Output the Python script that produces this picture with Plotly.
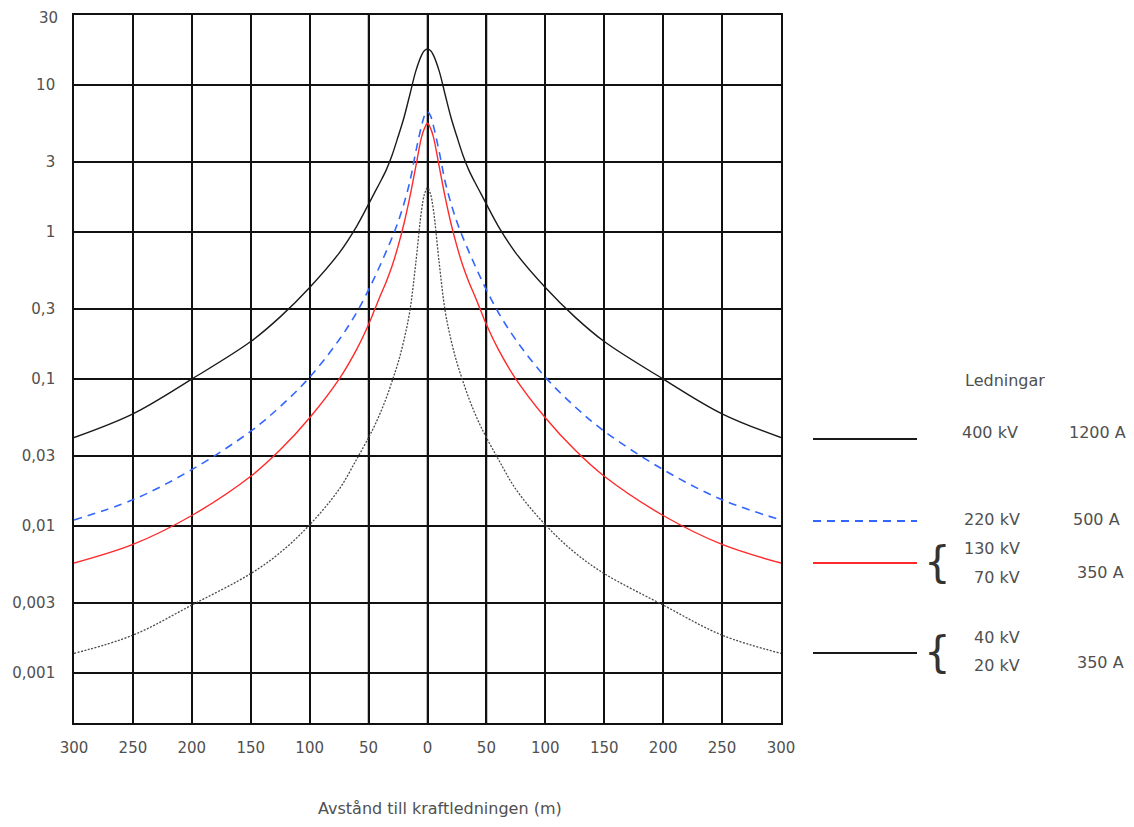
import math
import plotly.graph_objects as go

# Distance from the line (m), read at these points
distance = [-300, -250, -200, -150, -125, -100, -75, -60, -50, -45, -40, -35, -30, -25, -20, -15, -10, -5, -2.5,
            0, 2.5, 5, 10, 15, 20, 25, 30, 35, 40, 45, 50, 60, 75, 100, 125, 150, 200, 250, 300]

# Magnetic field values (µT)
kv400 = [0.04, 0.058, 0.1, 0.18, 0.265, 0.42, 0.72, 1.1, 1.55, 1.85, 2.2, 2.65, 3.35, 4.45, 6.0, 8.6, 12.4, 16.0, 17.2,
         17.6, 17.2, 16.0, 12.4, 8.6, 6.0, 4.45, 3.35, 2.65, 2.2, 1.85, 1.55, 1.1, 0.72, 0.42, 0.265, 0.18, 0.1, 0.058, 0.04]
kv220 = [0.011, 0.0151, 0.0242, 0.0442, 0.065, 0.103, 0.185, 0.285, 0.405, 0.49, 0.6, 0.74, 0.92, 1.17, 1.56, 2.2, 3.5, 5.3, 6.2,
         6.6, 6.2, 5.3, 3.5, 2.2, 1.56, 1.17, 0.92, 0.74, 0.6, 0.49, 0.405, 0.285, 0.185, 0.103, 0.065, 0.0442, 0.0242, 0.0151, 0.011]
kv130 = [0.0056, 0.0075, 0.0118, 0.0218, 0.033, 0.0546, 0.1, 0.16, 0.235, 0.295, 0.37, 0.46, 0.59, 0.8, 1.14, 1.73, 2.78, 4.45, 5.1,
         5.5, 5.1, 4.45, 2.78, 1.73, 1.14, 0.8, 0.59, 0.46, 0.37, 0.295, 0.235, 0.16, 0.1, 0.0546, 0.033, 0.0218, 0.0118, 0.0075, 0.0056]
kv40 = [0.00136, 0.00181, 0.0029, 0.00475, 0.0066, 0.0102, 0.0178, 0.0286, 0.04, 0.048, 0.059, 0.0743, 0.097, 0.129, 0.184, 0.29, 0.61, 1.42, 1.82,
        2.0, 1.82, 1.42, 0.61, 0.29, 0.184, 0.129, 0.097, 0.0743, 0.059, 0.048, 0.04, 0.0286, 0.0178, 0.0102, 0.0066, 0.00475, 0.0029, 0.00181, 0.00136]

x_ticks = [-300, -250, -200, -150, -100, -50, 0, 50, 100, 150, 200, 250, 300]
x_ticktext = ["300", "250", "200", "150", "100", "50", "0", "50", "100", "150", "200", "250", "300"]
grey_verticals = [-50, 0, 50]
y_ticks = [30, 10, 3, 1, 0.3, 0.1, 0.03, 0.01, 0.003, 0.001]
y_ticktext = ["30", "10", "3", "1", "0,3", "0,1", "0,03", "0,01", "0,003", "0,001"]

legend_rows = [
    # (y px, colour, dash)
    (439, "#1a1a1a", "solid"),
    (521, "#3366ff", "8px,6px"),
    (563, "#ff2a2a", "solid"),
    (653, "#1a1a1a", "solid"),
]
legend_texts = [
    ("Ledningar", 963, 380, "left"),
    ("400 kV", 960, 432, "left"),
    ("1200 A", 1128, 432, "right"),
    ("220 kV", 962, 519, "left"),
    ("500 A", 1122, 519, "right"),
    ("130 kV", 962, 548, "left"),
    ("70 kV", 972, 577, "left"),
    ("350 A", 1126, 572, "right"),
    ("40 kV", 972, 637, "left"),
    ("20 kV", 972, 665, "left"),
    ("350 A", 1126, 662, "right"),
]
braces = [(937, 562), (937, 652)]

OFF = 8  # page body margin
W, H = 1134 - OFF, 827 - OFF
L, R, T, B = 74 - OFF, 781 - OFF, 15 - OFF, 723 - OFF
FONT = "DejaVu Sans"
TXT = "#505050"
Y_RANGE = [-3.34, math.log10(y_ticks[0])]


def px_x(p):
    return (p - OFF - L) / (R - L)


def px_y(p):
    return (B - (p - OFF)) / (B - T)


SPL = dict(shape="spline", smoothing=1.0)
fig = go.Figure()
fig.add_trace(go.Scatter(x=distance, y=kv400, mode="lines", line=dict(color="#1a1a1a", width=1.4, **SPL), showlegend=False))
fig.add_trace(go.Scatter(x=distance, y=kv220, mode="lines", line=dict(color="#3366ff", width=1.6, dash="8px,6px", **SPL), showlegend=False))
fig.add_trace(go.Scatter(x=distance, y=kv130, mode="lines", line=dict(color="#ff2a2a", width=1.4, **SPL), showlegend=False))
fig.add_trace(go.Scatter(x=distance, y=kv40, mode="lines", line=dict(color="#4a4a4a", width=1.3, dash="2px,1.5px", **SPL), showlegend=False))

shapes = []
for xv in grey_verticals:
    shapes.append(dict(type="line", xref="x", yref="paper", x0=xv, x1=xv, y0=0, y1=1,
                       line=dict(color="#8a8a8a", width=2.2), layer="below"))
for yp, col, dash in legend_rows:
    shapes.append(dict(type="line", xref="paper", yref="paper", x0=px_x(813), x1=px_x(917),
                       y0=px_y(yp), y1=px_y(yp), line=dict(color=col, width=1.8, dash=dash)))

annotations = []
for txt, xp, yp, al in legend_texts:
    annotations.append(dict(text=txt, xref="paper", yref="paper", x=px_x(xp), y=px_y(yp),
                            xanchor=al, yanchor="middle", showarrow=False,
                            font=dict(family=FONT, size=16, color=TXT)))
for xp, yp in braces:
    annotations.append(dict(text="{", xref="paper", yref="paper", x=px_x(xp), y=px_y(yp),
                            xanchor="center", yanchor="middle", showarrow=False,
                            font=dict(family=FONT, size=42, color="#333")))
annotations.append(dict(text="Avstånd till kraftledningen (m)", xref="paper", yref="paper",
                        x=px_x(440), y=px_y(808), xanchor="center", yanchor="middle", showarrow=False,
                        font=dict(family=FONT, size=16, color=TXT)))
# the top tick label (30) sits on the top frame edge; draw it a little lower so it is not clipped
annotations.append(dict(text=y_ticktext[0], xref="paper", yref="paper", x=px_x(60), y=1.0,
                        yshift=-3, xanchor="right", yanchor="middle", showarrow=False,
                        font=dict(family=FONT, size=15, color=TXT)))
axis_ticktext = [""] + y_ticktext[1:]

fig.update_layout(
    width=W, height=H,
    margin=dict(l=L, r=W - R, t=T, b=H - B),
    paper_bgcolor="white", plot_bgcolor="white",
    shapes=shapes, annotations=annotations,
    font=dict(family=FONT, size=15, color=TXT),
    xaxis=dict(range=[-300, 300], tickvals=x_ticks, ticktext=x_ticktext,
               showgrid=True, gridcolor="#111", gridwidth=1.6, automargin=False,
               showline=True, linecolor="#111", linewidth=1.6, mirror=True,
               ticks="outside", ticklen=10, tickcolor="rgba(0,0,0,0)", ticklabeloverflow="allow",
               zeroline=False, tickfont=dict(family=FONT, size=15, color=TXT)),
    yaxis=dict(type="log", range=Y_RANGE, tickvals=y_ticks, ticktext=axis_ticktext,
               showgrid=True, gridcolor="#111", gridwidth=1.6, automargin=False,
               showline=True, linecolor="#111", linewidth=1.6, mirror=True,
               ticks="outside", ticklen=14, tickcolor="rgba(0,0,0,0)", ticklabeloverflow="allow",
               zeroline=False, tickfont=dict(family=FONT, size=15, color=TXT)),
)

fig.write_html("out.html")
